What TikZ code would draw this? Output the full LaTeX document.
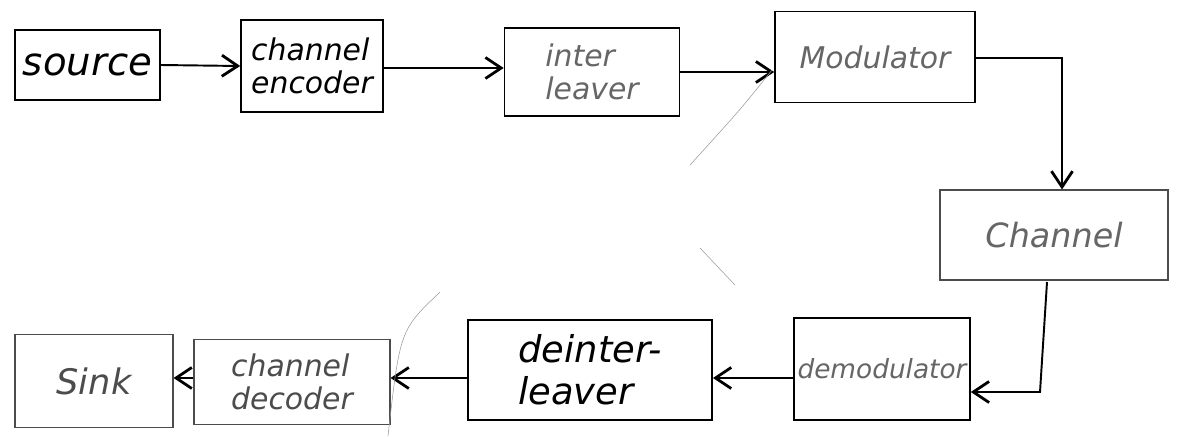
\documentclass[tikz,border=0pt]{standalone}
\usepackage{fontspec}
\setmainfont{DejaVu Sans}
\usetikzlibrary{arrows.meta}
\begin{document}
\begin{tikzpicture}[x=0.02cm,y=-0.02cm,
  blk/.style={draw, line width=0.9pt, inner sep=2pt, align=left, font=\fontsize{17}{19}\selectfont\itshape},
  faintblk/.style={blk, line width=0.6pt, draw=black!70},
  conn/.style={line width=1.1pt, -{Straight Barb[length=9pt,width=12pt,line width=1.6pt]}},
  stray/.style={line width=0.3pt, black!40}]
\useasboundingbox[fill=white] (0,0) rectangle (1182,436);
\node[blk, minimum width=145*0.02cm, minimum height=70*0.02cm, font=\fontsize{22}{24}\selectfont\itshape] (source) at (87.5,65) {source};
\node[blk, minimum width=142*0.02cm, minimum height=92*0.02cm] (enc) at (312,66) {channel\\encoder};
\node[blk, minimum width=175*0.02cm, minimum height=88*0.02cm, text=black!60] (intl) at (592,72) {inter\\leaver};
\node[blk, minimum width=200*0.02cm, minimum height=91*0.02cm, text=black!60] (mod) at (875,57) {Modulator};
\node[faintblk, minimum width=228*0.02cm, minimum height=90*0.02cm, font=\fontsize{19}{20}\selectfont\itshape, text=black!60] (chan) at (1054,235) {Channel};
\node[blk, minimum width=172*0.02cm, minimum height=102*0.02cm, font=\fontsize{15}{18}\selectfont\itshape, text=black!60] (demod) at (882,369) {demodulator};
\node[blk, line width=1pt, minimum width=244*0.02cm, minimum height=100*0.02cm, font=\fontsize{21}{24}\selectfont\itshape] (deint) at (590,370) {deinter-\\leaver};
\node[faintblk, minimum width=196*0.02cm, minimum height=85*0.02cm, text=black!70] (dec) at (292,382) {channel\\decoder};
\node[faintblk, minimum width=158*0.02cm, minimum height=93*0.02cm, font=\fontsize{20}{22}\selectfont\itshape, text=black!70] (sink) at (94,381) {Sink};
\draw[conn] (source.east) -- (enc.west);
\draw[conn] (enc.east |- 0,68) -- (intl.west |- 0,68);
\draw[conn] (intl.east) -- (intl.east -| mod.west);
\coordinate (mc) at (1062,58);
\draw[conn, line width=0.6pt] (mod.east |- mc) -- (mc) -- (mc |- chan.north);
\coordinate (cd) at (1047,282);
\draw[conn] (cd) -- (1040,392) -- (demod.east |- 0,392);
\draw[conn] (demod.west |- 0,378) -- (deint.east |- 0,378);
\draw[conn] (deint.west |- 0,378) -- (dec.east |- 0,378);
\draw[conn] (dec.west |- 0,378) -- (sink.east |- 0,378);
\draw[stray] (772,70) .. controls (740,110) .. (690,165);
\draw[stray] (700,248) -- (735,285);
\draw[stray] (440,292) .. controls (400,330) .. (388,436);
\end{tikzpicture}
\end{document}
